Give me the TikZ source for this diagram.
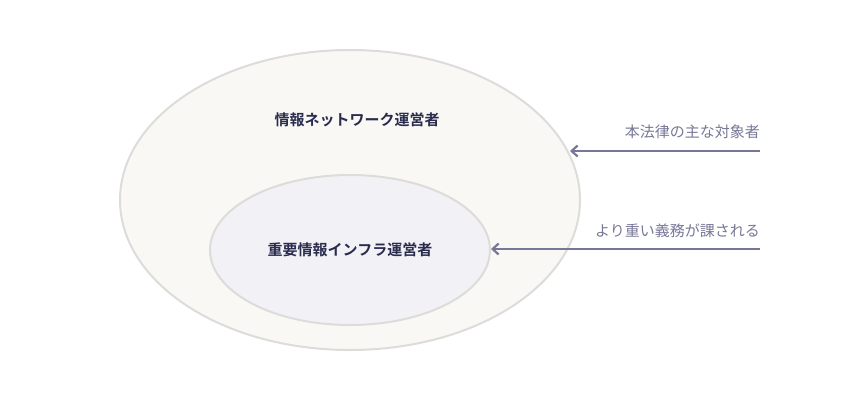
\documentclass[tikz,border=0pt]{standalone}
\usepackage{fontspec}
\newfontfamily\cjk{Noto Sans CJK JP}
\newfontfamily\cjkb{Noto Sans CJK JP Bold}
\usetikzlibrary{arrows.meta}
\definecolor{outerfill}{HTML}{F9F8F4}
\definecolor{innerfill}{HTML}{F2F1F6}
\definecolor{edge}{HTML}{DDDCDA}
\definecolor{navy}{HTML}{2A2C4E}
\definecolor{arr}{HTML}{777797}
\tikzset{
  ring/.style={draw=edge, line width=2pt},
  title/.style={font=\cjkb\fontsize{15}{17}\selectfont, text=navy},
  note/.style={font=\cjk\fontsize{15}{17}\selectfont, text=arr, anchor=south east, inner sep=0pt},
  pointer/.style={draw=arr, line width=2.2pt, -{Straight Barb[length=6pt,width=11pt]}}
}
\begin{document}
\begin{tikzpicture}[x=1pt,y=-1pt]
\useasboundingbox (0,0) rectangle (860,400);
\draw[ring, fill=outerfill] (350,200) ellipse [x radius=230, y radius=150];
\draw[ring, fill=innerfill] (350,250) ellipse [x radius=140, y radius=75];
\node[title] (outer) at (357,120) {情報ネットワーク運営者};
\node[title] (inner) at (350,250) {重要情報インフラ運営者};
\coordinate (o) at (570,151);
\coordinate (i) at (491,249);
\coordinate (s1) at (760,151);
\coordinate (s2) at (760,249);
\node[note] (n1) at (760,139) {本法律の主な対象者};
\node[note] (n2) at (760,238) {より重い義務が課される};
\draw[pointer] (s1) -- (o);
\draw[pointer] (s2) -- (i);
\end{tikzpicture}
\end{document}
